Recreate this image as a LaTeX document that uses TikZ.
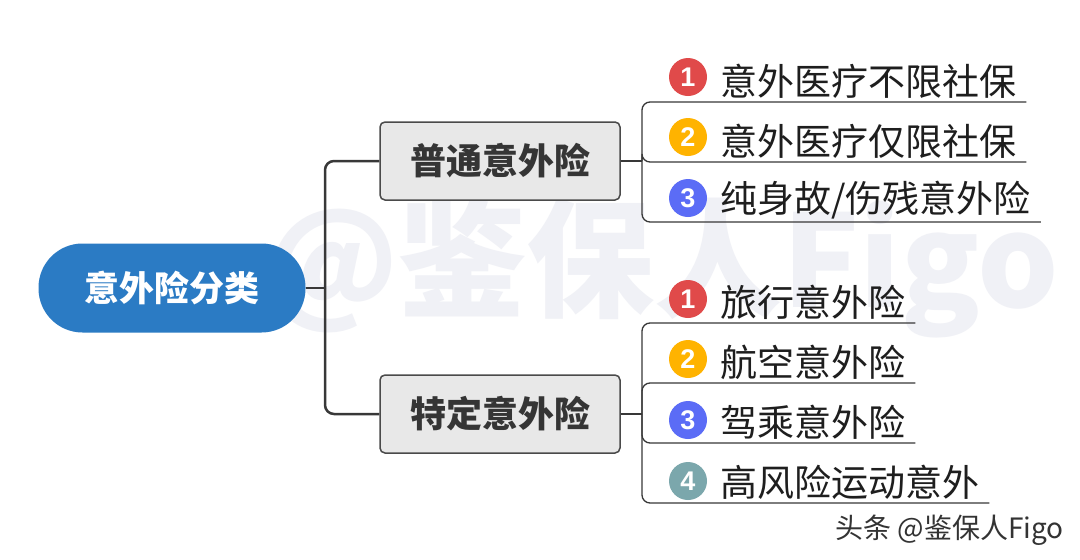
\documentclass[tikz,border=0pt]{standalone}
\usepackage{fontspec}
\setmainfont{Noto Sans CJK SC}
\newfontfamily\numfont{Liberation Sans}
\definecolor{rootblue}{HTML}{2B7BC4}
\definecolor{boxgray}{HTML}{E8E8E8}
\definecolor{boxline}{HTML}{4A4A4A}
\definecolor{linegray}{HTML}{383838}
\definecolor{cred}{HTML}{E04A4A}
\definecolor{corange}{HTML}{FFB300}
\definecolor{cblue}{HTML}{5B6CF6}
\definecolor{cteal}{HTML}{7BA7AC}
\definecolor{wmark}{HTML}{F0F1F6}
\definecolor{txt}{HTML}{1E1E1E}
\tikzset{
  rootnode/.style={fill=rootblue, text=white, font=\fontsize{35}{40}\selectfont\bfseries,
    minimum width=267pt, minimum height=89pt, rounded corners=44pt, inner sep=0pt},
  branchnode/.style={fill=boxgray, draw=boxline, line width=1.5pt, rounded corners=5pt,
    text=txt!90!white, font=\fontsize{36}{40}\selectfont\bfseries,
    minimum width=240pt, minimum height=78pt, inner sep=0pt},
  leafnode/.style={anchor=south west, text=txt, font=\fontsize{37}{40}\selectfont,
    inner xsep=10pt, inner ysep=3pt},
  numnode/.style={circle, minimum size=38pt, inner sep=0pt, text=white,
    font=\numfont\fontsize{27}{27}\selectfont\bfseries},
  mainline/.style={draw=linegray, line width=2.5pt, rounded corners=9pt},
  leafline/.style={draw=linegray, line width=1.3pt, rounded corners=8pt},
}
\begin{document}
\begin{tikzpicture}[x=1pt, y=-1pt]
\useasboundingbox (0,0) rectangle (1080,560);
\fill[white] (0,0) rectangle (1080,560);
% watermark
\node[text=wmark, font=\fontsize{128}{130}\selectfont\bfseries, inner sep=0pt] (wm) at (662,268) {@鉴保人Figo};
% root and branches
\node[rootnode] (root) at (172,288) {意外险分类};
\node[branchnode] (b1) at (500,161) {普通意外险};
\node[branchnode] (b2) at (500,414) {特定意外险};
\coordinate (t) at (325,288);
\draw[mainline] (root.east) -- (t);
\draw[mainline] (t) |- (b1.west);
\draw[mainline] (t) |- (b2.west);
% group 1 leaves
\coordinate (j1) at (642,161);
\node[leafnode] (l11) at (710,102) {意外医疗不限社保};
\node[leafnode] (l12) at (710,162) {意外医疗仅限社保};
\node[leafnode] (l13) at (710,222) {纯身故/伤残意外险};
\node[numnode, fill=cred] (n11) at (688,77) {1};
\node[numnode, fill=corange] (n12) at (688,137) {2};
\node[numnode, fill=cblue] (n13) at (688,198) {3};
\draw[leafline] (b1.east) -- (j1);
\draw[leafline] (j1) |- (l11.south east);
\draw[leafline] (j1) |- (l12.south east);
\draw[leafline] (j1) |- (l13.south east);
% group 2 leaves
\coordinate (j2) at (642,414);
\node[leafnode] (l21) at (710,323) {旅行意外险};
\node[leafnode] (l22) at (710,383) {航空意外险};
\node[leafnode] (l23) at (710,443) {驾乘意外险};
\node[leafnode] (l24) at (710,503) {高风险运动意外};
\node[numnode, fill=cred] (n21) at (688,299) {1};
\node[numnode, fill=corange] (n22) at (688,359) {2};
\node[numnode, fill=cblue] (n23) at (688,420) {3};
\node[numnode, fill=cteal] (n24) at (688,481) {4};
\draw[leafline] (b2.east) -- (j2);
\draw[leafline] (j2) |- (l21.south east);
\draw[leafline] (j2) |- (l22.south east);
\draw[leafline] (j2) |- (l23.south east);
\draw[leafline] (j2) |- (l24.south east);
% footer
\node[anchor=east, text=black!80, font=\fontsize{28}{30}\selectfont, inner sep=0pt] (foot) at (1064,530) {头条 @鉴保人Figo};
\end{tikzpicture}
\end{document}
